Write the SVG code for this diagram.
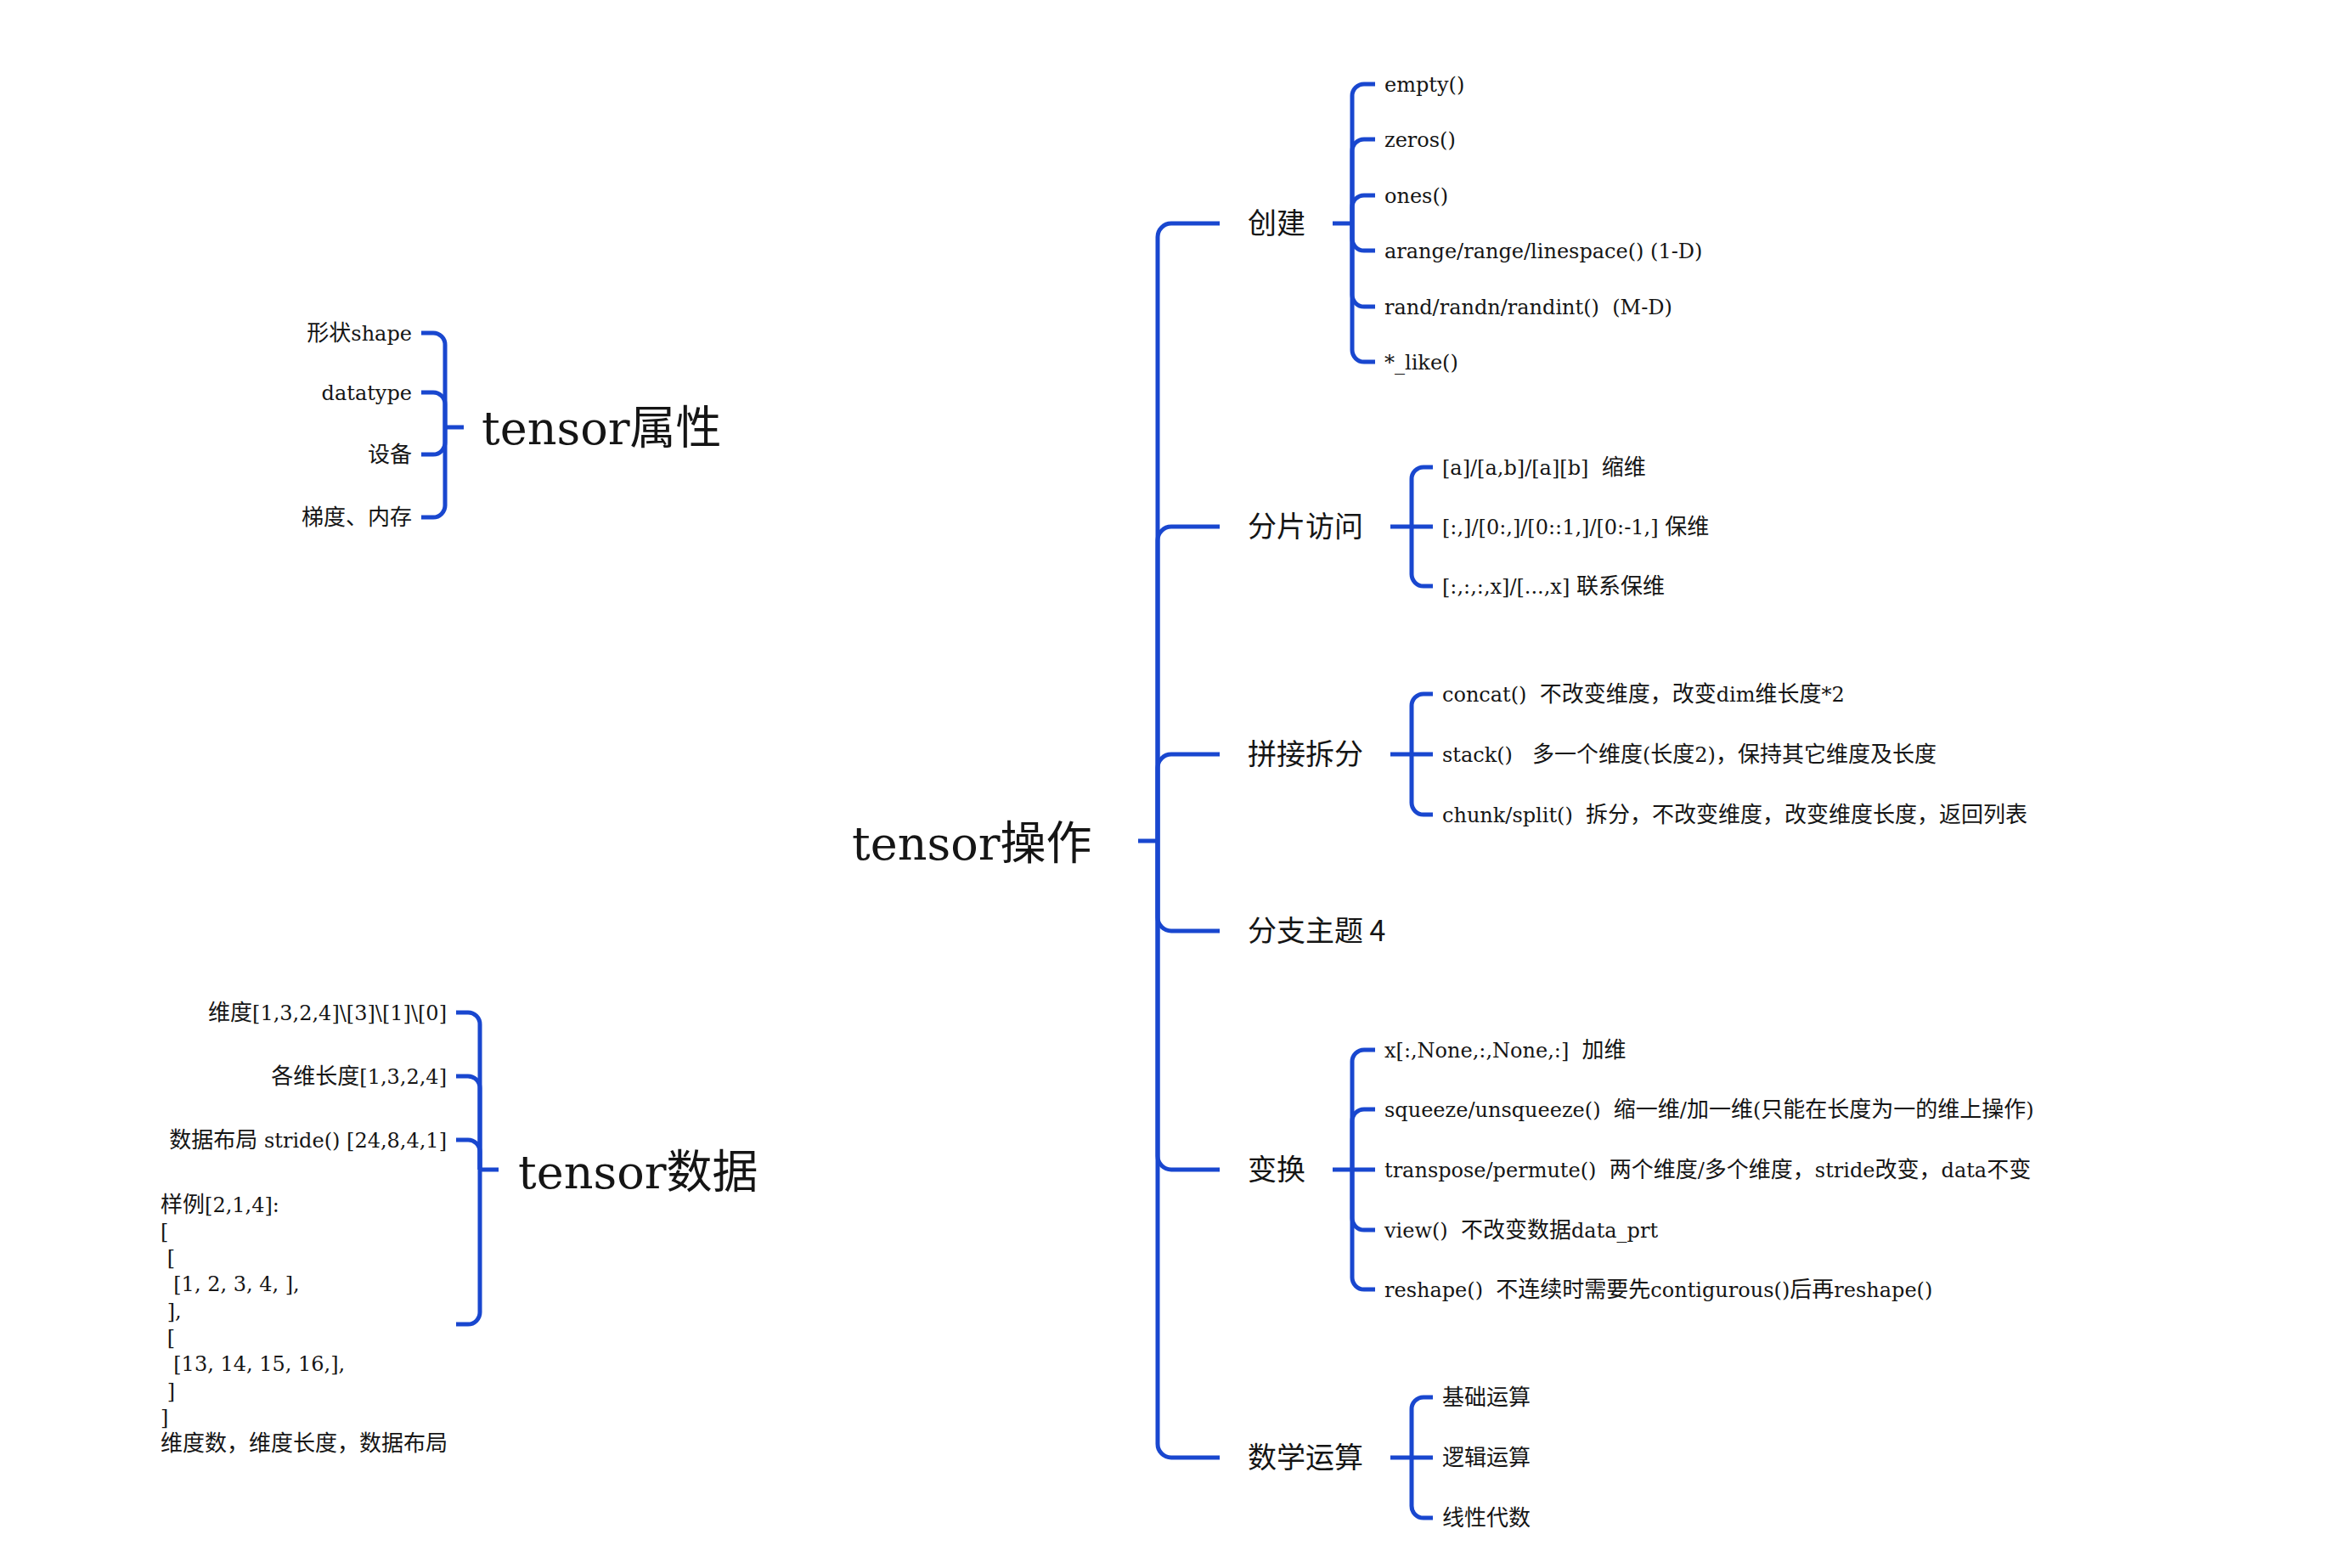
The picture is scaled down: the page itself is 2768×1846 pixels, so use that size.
<svg xmlns="http://www.w3.org/2000/svg" width="2768" height="1846" viewBox="0 0 2768 1846" xml:space="preserve">
<style>
.t{font-family:"DejaVu Serif","Noto Sans CJK SC",serif;fill:#151515;white-space:pre}
.lf{font-size:24px}
.c{font-size:26px;font-family:"Noto Sans CJK SC",sans-serif}
.cl{font-size:26px;font-family:"Noto Sans CJK SC",sans-serif}
.br{font-size:34px;font-family:"Noto Sans CJK SC","DejaVu Serif",sans-serif}
.ti{font-size:54px}
.e{text-anchor:end}
</style>
<rect width="2768" height="1846" fill="#ffffff"/>
<g id="connectors" fill="none" stroke="#1947cf" stroke-width="5">
<path d="M1340 990H1363"/>
<path d="M1363 990V279A16 16 0 0 1 1379 263H1436"/>
<path d="M1363 990V636A16 16 0 0 1 1379 620H1436"/>
<path d="M1363 990V904A16 16 0 0 1 1379 888H1436"/>
<path d="M1363 990V1080A16 16 0 0 0 1379 1096H1436"/>
<path d="M1363 990V1361A16 16 0 0 0 1379 1377H1436"/>
<path d="M1363 990V1700A16 16 0 0 0 1379 1716H1436"/>
<path d="M1569 263H1592"/>
<path d="M1592 263V113A14 14 0 0 1 1606 99H1619"/>
<path d="M1592 263V178A14 14 0 0 1 1606 164H1619"/>
<path d="M1592 263V244A14 14 0 0 1 1606 230H1619"/>
<path d="M1592 263V281A14 14 0 0 0 1606 295H1619"/>
<path d="M1592 263V347A14 14 0 0 0 1606 361H1619"/>
<path d="M1592 263V412A14 14 0 0 0 1606 426H1619"/>
<path d="M1637 620H1687"/>
<path d="M1662 620V564A14 14 0 0 1 1676 550H1687"/>
<path d="M1662 620V676A14 14 0 0 0 1676 690H1687"/>
<path d="M1637 888H1687"/>
<path d="M1662 888V831A14 14 0 0 1 1676 817H1687"/>
<path d="M1662 888V945A14 14 0 0 0 1676 959H1687"/>
<path d="M1569 1377H1619"/>
<path d="M1592 1377V1250A14 14 0 0 1 1606 1236H1619"/>
<path d="M1592 1377V1320A14 14 0 0 1 1606 1306H1619"/>
<path d="M1592 1377V1434A14 14 0 0 0 1606 1448H1619"/>
<path d="M1592 1377V1504A14 14 0 0 0 1606 1518H1619"/>
<path d="M1637 1716H1687"/>
<path d="M1662 1716V1659A14 14 0 0 1 1676 1645H1687"/>
<path d="M1662 1716V1773A14 14 0 0 0 1676 1787H1687"/>
<path d="M546 503H524"/>
<path d="M524 503V406A14 14 0 0 0 510 392H496"/>
<path d="M524 503V476A14 14 0 0 0 510 462H496"/>
<path d="M524 503V521A14 14 0 0 1 510 535H496"/>
<path d="M524 503V595A14 14 0 0 1 510 609H496"/>
<path d="M587 1377H565"/>
<path d="M565 1377V1206A14 14 0 0 0 551 1192H537"/>
<path d="M565 1377V1281A14 14 0 0 0 551 1267H537"/>
<path d="M565 1377V1356A14 14 0 0 0 551 1342H537"/>
<path d="M565 1377V1545A14 14 0 0 1 551 1559H537"/>
</g>
<g id="root"><text class="t ti" x="1003" y="1012">tensor<tspan font-family="Noto Sans CJK SC">操作</tspan></text></g>
<g id="attr"><text class="t ti" x="567" y="523">tensor<tspan font-family="Noto Sans CJK SC">属性</tspan></text></g>
<g id="data"><text class="t ti" x="610" y="1399">tensor<tspan font-family="Noto Sans CJK SC">数据</tspan></text></g>
<g id="b-create"><text class="t br" x="1469" y="275">创建</text></g>
<g id="b-slice"><text class="t br" x="1469" y="632">分片访问</text></g>
<g id="b-cat"><text class="t br" x="1469" y="900">拼接拆分</text></g>
<g id="b-4"><text class="t br" x="1469" y="1108">分支主题 4</text></g>
<g id="b-trans"><text class="t br" x="1469" y="1389">变换</text></g>
<g id="b-math"><text class="t br" x="1469" y="1728">数学运算</text></g>
<g id="l-empty"><text class="t lf" x="1630" y="107.5">empty()</text></g>
<g id="l-zeros"><text class="t lf" x="1630" y="172.5">zeros()</text></g>
<g id="l-ones"><text class="t lf" x="1630" y="238.5">ones()</text></g>
<g id="l-arange"><text class="t lf" x="1630" y="303.5">arange/range/linespace() (1-D)</text></g>
<g id="l-rand"><text class="t lf" x="1630" y="369.5">rand/randn/randint()  (M-D)</text></g>
<g id="l-like"><text class="t lf" x="1630" y="434.5">*_like()</text></g>
<g id="l-s1"><text class="t lf" x="1698" y="558.5">[a]/[a,b]/[a][b]  <tspan class="c">缩维</tspan></text></g>
<g id="l-s2"><text class="t lf" x="1698" y="628.5">[:,]/[0:,]/[0::1,]/[0:-1,] <tspan class="c">保维</tspan></text></g>
<g id="l-s3"><text class="t lf" x="1698" y="698.5">[:,:,:,x]/[...,x] <tspan class="c">联系保维</tspan></text></g>
<g id="l-c1"><text class="t lf" x="1698" y="825.5">concat()  <tspan class="c">不改变维度，改变</tspan>dim<tspan class="c">维长度</tspan>*2</text></g>
<g id="l-c2"><text class="t lf" x="1698" y="896.5">stack()   <tspan class="c">多一个维度</tspan>(<tspan class="c">长度</tspan>2)<tspan class="c">，保持其它维度及长度</tspan></text></g>
<g id="l-c3"><text class="t lf" x="1698" y="967.5">chunk/split()  <tspan class="c">拆分，不改变维度，改变维度长度，返回列表</tspan></text></g>
<g id="l-t1"><text class="t lf" x="1630" y="1244.5">x[:,None,:,None,:]  <tspan class="c">加维</tspan></text></g>
<g id="l-t2"><text class="t lf" x="1630" y="1314.5">squeeze/unsqueeze()  <tspan class="c">缩一维</tspan>/<tspan class="c">加一维</tspan>(<tspan class="c">只能在长度为一的维上操作</tspan>)</text></g>
<g id="l-t3"><text class="t lf" x="1630" y="1385.5">transpose/permute()  <tspan class="c">两个维度</tspan>/<tspan class="c">多个维度，</tspan>stride<tspan class="c">改变，</tspan>data<tspan class="c">不变</tspan></text></g>
<g id="l-t4"><text class="t lf" x="1630" y="1456.5">view()  <tspan class="c">不改变数据</tspan>data_prt</text></g>
<g id="l-t5"><text class="t lf" x="1630" y="1526.5">reshape()  <tspan class="c">不连续时需要先</tspan>contigurous()<tspan class="c">后再</tspan>reshape()</text></g>
<g id="l-m1"><text class="t cl" x="1698" y="1653.5">基础运算</text></g>
<g id="l-m2"><text class="t cl" x="1698" y="1724.5">逻辑运算</text></g>
<g id="l-m3"><text class="t cl" x="1698" y="1795.5">线性代数</text></g>
<g id="l-a1"><text class="t lf e" x="485" y="400.5"><tspan class="c">形状</tspan>shape</text></g>
<g id="l-a2"><text class="t lf e" x="485" y="470.5">datatype</text></g>
<g id="l-a3"><text class="t cl e" x="485" y="543.5">设备</text></g>
<g id="l-a4"><text class="t cl e" x="485" y="617.5">梯度、内存</text></g>
<g id="l-d1"><text class="t lf e" x="526" y="1200.5"><tspan class="c">维度</tspan>[1,3,2,4]\[3]\[1]\[0]</text></g>
<g id="l-d2"><text class="t lf e" x="526" y="1275.5"><tspan class="c">各维长度</tspan>[1,3,2,4]</text></g>
<g id="l-d3"><text class="t lf e" x="526" y="1350.5"><tspan class="c">数据布局</tspan> stride() [24,8,4,1]</text></g>
<g id="l-d4"><text class="t lf" x="189" y="1426.5"><tspan class="c">样例</tspan>[2,1,4]:<tspan x="189" y="1457.8">[</tspan><tspan x="189" y="1489.1"> [</tspan><tspan x="189" y="1520.4">  [1, 2, 3, 4, ],</tspan><tspan x="189" y="1551.7"> ],</tspan><tspan x="189" y="1583"> [</tspan><tspan x="189" y="1614.3">  [13, 14, 15, 16,],</tspan><tspan x="189" y="1645.6"> ]</tspan><tspan x="189" y="1676.9">]</tspan><tspan x="189" y="1708.2" class="c">维度数，维度长度，数据布局</tspan></text></g>
</svg>
